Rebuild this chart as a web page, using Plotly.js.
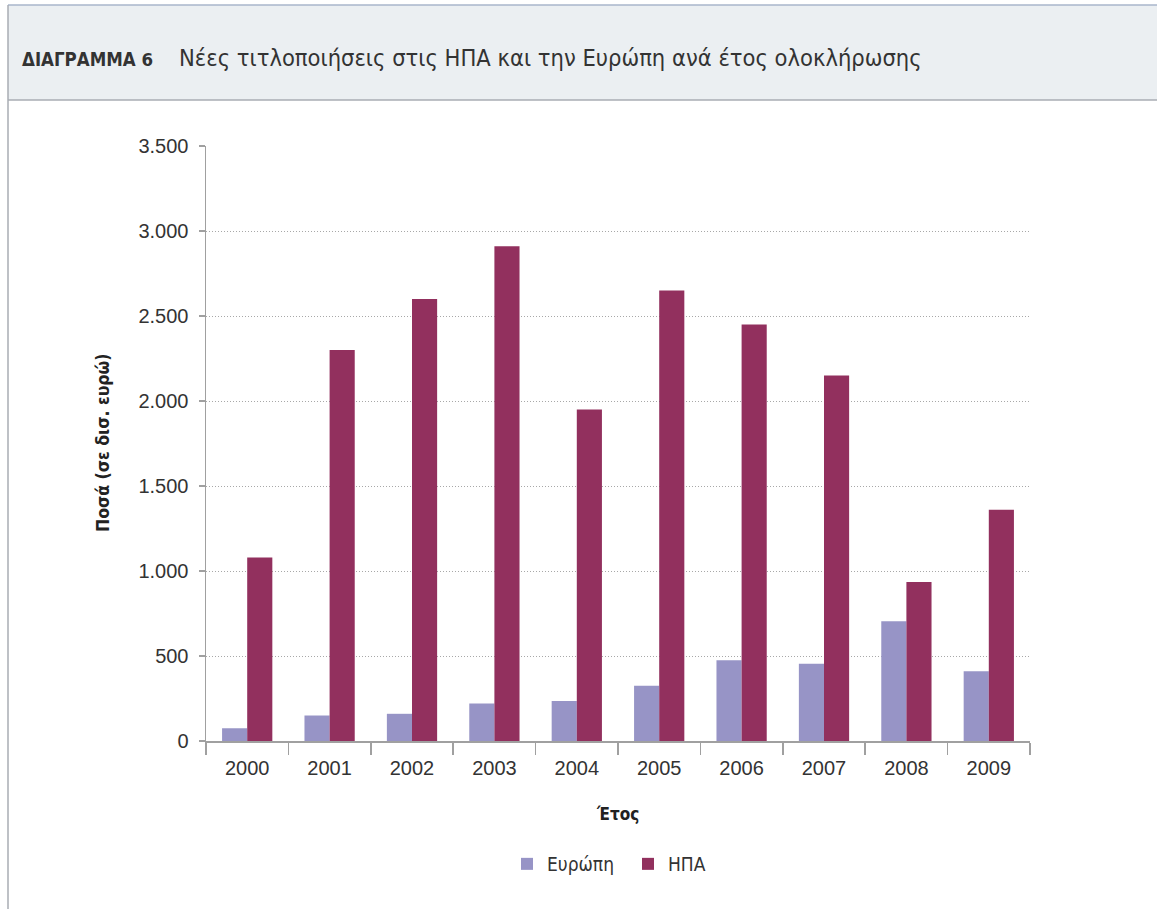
<!DOCTYPE html>
<html>
<head>
<meta charset="utf-8">
<script src="https://cdn.plot.ly/plotly-3.0.1.min.js"></script>
<style>html,body{margin:0;padding:0;background:#fff;}#chart{width:1157px;height:909px;}</style>
</head>
<body>
<div id="chart"></div>
<script>
const years = ['2000','2001','2002','2003','2004','2005','2006','2007','2008','2009'];
const europe = [75, 150, 160, 220, 235, 325, 475, 455, 705, 410];
const usa = [1080, 2300, 2600, 2910, 1950, 2650, 2450, 2150, 935, 1360];
const yTicks = [0, 500, 1000, 1500, 2000, 2500, 3000, 3500];
const seriesNames = ['Ευρώπη', 'ΗΠΑ'];

const W = 1157, H = 909;
const L = 206, R = 1030, T = 146, B = 741;
const px = x => (x - L) / (R - L);
const py = y => (B - y) / (B - T);
const narrow = '"Liberation Sans Narrow", "DejaVu Sans Condensed", "Liberation Sans", sans-serif';
const sans = '"Liberation Sans", Arial, sans-serif';

const traces = [
  {type:'bar', name:seriesNames[0], x:years, y:europe, marker:{color:'#9794c6'}, hoverinfo:'x+y'},
  {type:'bar', name:seriesNames[1], x:years, y:usa, marker:{color:'#92305e'}, hoverinfo:'x+y'}
];

const layout = {
  width:W, height:H,
  margin:{l:L, r:W-R, t:T, b:H-B, pad:0},
  paper_bgcolor:'#ffffff', plot_bgcolor:'#ffffff',
  separators:',.',
  barmode:'group', bargap:0.39, bargroupgap:0,
  showlegend:true,
  legend:{orientation:'h', x:px(507), xanchor:'left', y:py(864), yanchor:'middle',
          font:{family:narrow, size:19, color:'#333'}, entrywidth:76, entrywidthmode:'pixels',
          traceorder:'normal'},
  xaxis:{type:'category', tickson:'boundaries', ticks:'outside', ticklen:12, tickwidth:1.5,
         tickcolor:'#a0a0a0', showline:true, linecolor:'#a0a0a0', linewidth:1.5,
         ticklabelstandoff:8,
         showgrid:false, tickfont:{family:sans, size:20, color:'#333'}, fixedrange:true},
  yaxis:{range:[0,3500], tickvals:yTicks, tickformat:',d', ticks:'outside', ticklen:6,
         tickwidth:1.5, tickcolor:'#a0a0a0', showline:true, linecolor:'#a0a0a0', linewidth:1.5,
         showgrid:true, gridcolor:'#a8a8a8', griddash:'1px,2px', gridwidth:1, zeroline:false,
         ticklabelstandoff:6, tickfont:{family:sans, size:20, color:'#333'}, fixedrange:true},
  shapes:[
    {type:'rect', xref:'paper', yref:'paper', x0:px(8), x1:px(1160), y0:py(100), y1:py(5),
     fillcolor:'#ebeff2', line:{width:0}, layer:'below'},
    {type:'line', xref:'paper', yref:'paper', x0:px(8), x1:px(1160), y0:py(5), y1:py(5),
     line:{color:'#a9b6cb', width:1.5}},
    {type:'line', xref:'paper', yref:'paper', x0:px(8), x1:px(1160), y0:py(100), y1:py(100),
     line:{color:'#a8adb3', width:1.5}},
    {type:'line', xref:'paper', yref:'paper', x0:px(8), x1:px(8), y0:py(5), y1:py(912),
     line:{color:'#a8adb3', width:1.5}}
  ],
  annotations:[
    {xref:'paper', yref:'paper', x:px(20), y:py(59), xanchor:'left', yanchor:'middle', showarrow:false,
     text:'<b>ΔΙΑΓΡΑΜΜΑ 6</b>', font:{family:narrow, size:18.5, color:'#333'}},
    {xref:'paper', yref:'paper', x:px(177), y:py(58), xanchor:'left', yanchor:'middle', showarrow:false,
     text:'Νέες τιτλοποιήσεις στις ΗΠΑ και την Ευρώπη ανά έτος ολοκλήρωσης',
     font:{family:narrow, size:23.5, color:'#333'}},
    {xref:'paper', yref:'paper', x:px(103), y:py(443), xanchor:'center', yanchor:'middle', showarrow:false,
     textangle:-90, text:'<b>Ποσά (σε δισ. ευρώ)</b>', font:{family:narrow, size:17.5, color:'#222'}},
    {xref:'paper', yref:'paper', x:px(617), y:py(814), xanchor:'center', yanchor:'middle', showarrow:false,
     text:'<b>Έτος</b>', font:{family:narrow, size:17, color:'#222'}}
  ]
};

Plotly.newPlot('chart', traces, layout, {displayModeBar:false, staticPlot:true});
</script>
</body>
</html>
